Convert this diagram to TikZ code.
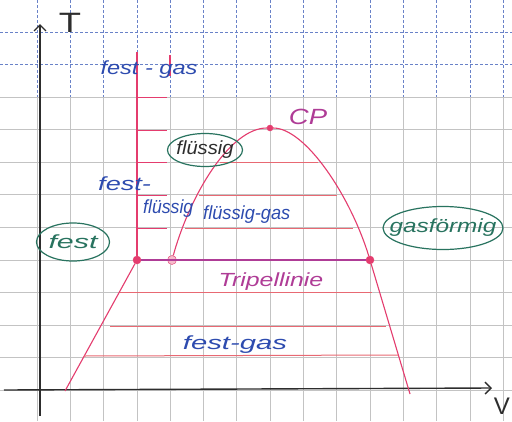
\documentclass[tikz,border=0pt]{standalone}
\usepackage{fontspec}
\usetikzlibrary{arrows.meta,shapes.geometric}
\newfontfamily\handfont{Liberation Sans}
\definecolor{gridgray}{RGB}{195,195,195}
\definecolor{gridblue}{RGB}{105,130,200}
\definecolor{pinkline}{RGB}{228,60,110}
\definecolor{purpleline}{RGB}{175,60,150}
\definecolor{salmon}{RGB}{232,105,115}
\definecolor{penblue}{RGB}{45,75,175}
\definecolor{pengreen}{RGB}{40,115,95}
\definecolor{inkgray}{RGB}{45,45,45}
\newcommand{\hw}[2]{\scalebox{#1}[1]{#2}}
\tikzset{
  gridline/.style={gridgray,line width=0.7pt},
  bluegrid/.style={gridblue,line width=0.7pt,densely dashed},
  axisline/.style={inkgray,line width=1.4pt},
  phaseline/.style={pinkline,line width=1.1pt},
  fillline/.style={salmon,line width=1pt},
  dotmark/.style={circle,fill=pinkline,draw=pinkline,inner sep=0pt,minimum size=8pt},
  hand/.style={font=\handfont\itshape\fontsize{19}{19}\selectfont,inner sep=1pt},
  bluetext/.style={hand,text=penblue},
  phasebubble/.style={draw=pengreen,line width=1.2pt,ellipse,inner sep=0pt}
}
\begin{document}
\begin{tikzpicture}[x=1pt,y=-1pt]
\useasboundingbox (0,0) rectangle (512,421);
\fill[white] (0,0) rectangle (512,421);
% grid
\foreach \i in {0,...,14} {
  \draw[gridline] ({37+33.3*\i},97) -- ({37+33.3*\i},421);
  \draw[bluegrid] ({37+33.3*\i},0) -- ({37+33.3*\i},97);
}
\foreach \k in {2,...,11} \draw[gridline] (0,{32+32.55*\k}) -- (512,{32+32.55*\k});
\foreach \k in {0,1} \draw[bluegrid] (0,{32+32.55*\k}) -- (512,{32+32.55*\k});
% axes
\coordinate (tbot) at (40,416);
\coordinate (ttop) at (40,24);
\coordinate (vleft) at (4,390);
\coordinate (vright) at (492,388);
\draw[axisline,-{Straight Barb[length=6pt,width=12pt]}] (tbot) -- (ttop);
\draw[axisline,-{Straight Barb[length=6pt,width=12pt]}] (vleft) -- (vright);
\node[font=\handfont\fontsize{28}{28}\selectfont,text=inkgray] (tlabel) at (70,23) {\hw{1.3}{T}};
\node[font=\handfont\fontsize{24}{24}\selectfont,text=inkgray,anchor=east,inner sep=1pt] (vlabel) at (511,406) {V};
% key points
\node[dotmark] (tp1) at (137,260) {};
\node[dotmark,fill=pinkline!35,minimum size=9pt] (tp2) at (172,260) {};
\node[dotmark] (tp3) at (370,260) {};
\node[dotmark,minimum size=6pt] (cp) at (270,128) {};
\coordinate (vtop) at (137,52);
\coordinate (stubtop) at (170,55);
\coordinate (stubbot) at (170,76);
\coordinate (bl) at (65,391);
\coordinate (br) at (410,394);
% phase boundaries
\draw[phaseline] (vtop) -- (tp1);
\draw[phaseline] (stubtop) -- (stubbot);
\foreach \y in {97,130,162,195,228} \draw[phaseline,line width=0.9pt] (137,\y) -- (167,\y);
\draw[purpleline,line width=1.3pt] (tp1) -- (tp3);
\draw[phaseline] (tp1) -- (bl);
\draw[phaseline] (tp3) -- (br);
\draw[phaseline] (tp2) .. controls (190,195) and (230,128) .. (cp)
                      .. controls (305,128) and (350,195) .. (tp3);
% tie lines
\draw[fillline] (220,162) -- (318,162);
\draw[fillline] (199,195) -- (337,195);
\draw[fillline] (185,228) -- (353,228);
\draw[fillline] (120,292) -- (372,292);
\draw[fillline] (110,326) -- (386,326);
\draw[fillline] (84,356) -- (398,355);
% labels
\node[bluetext] (festgastop) at (149,70) {\hw{1.24}{fest - gas}};
\node[bluetext,anchor=west] (festfl1) at (97,184) {\hw{1.43}{fest-}};
\node[bluetext,anchor=west] (festfl2) at (142,209) {\hw{0.93}{flüssig}};
\node[bluetext,anchor=west] (flgas) at (202,215) {\hw{0.96}{flüssig-gas}};
\node[hand,text=purpleline] (tripel) at (271,282) {\hw{1.31}{Tripellinie}};
\node[bluetext] (festgasbot) at (235,345) {\hw{1.54}{fest-gas}};
\node[hand,text=purpleline,font=\handfont\itshape\fontsize{22}{22}\selectfont] (cplabel) at (308,117) {\hw{1.25}{CP}};
\node[phasebubble,minimum width=75pt,minimum height=33pt] (flbub) at (205,150) {};
\node[hand,text=inkgray] at (flbub) {\hw{1.06}{flüssig}};
\node[phasebubble,minimum width=73pt,minimum height=38pt] (festbub) at (73,242) {};
\node[hand,text=pengreen] at (festbub) {\hw{1.6}{fest}};
\node[phasebubble,minimum width=120pt,minimum height=43pt] (gasbub) at (443,228) {};
\node[hand,text=pengreen] at (gasbub) {\hw{1.28}{gasförmig}};
\end{tikzpicture}
\end{document}
